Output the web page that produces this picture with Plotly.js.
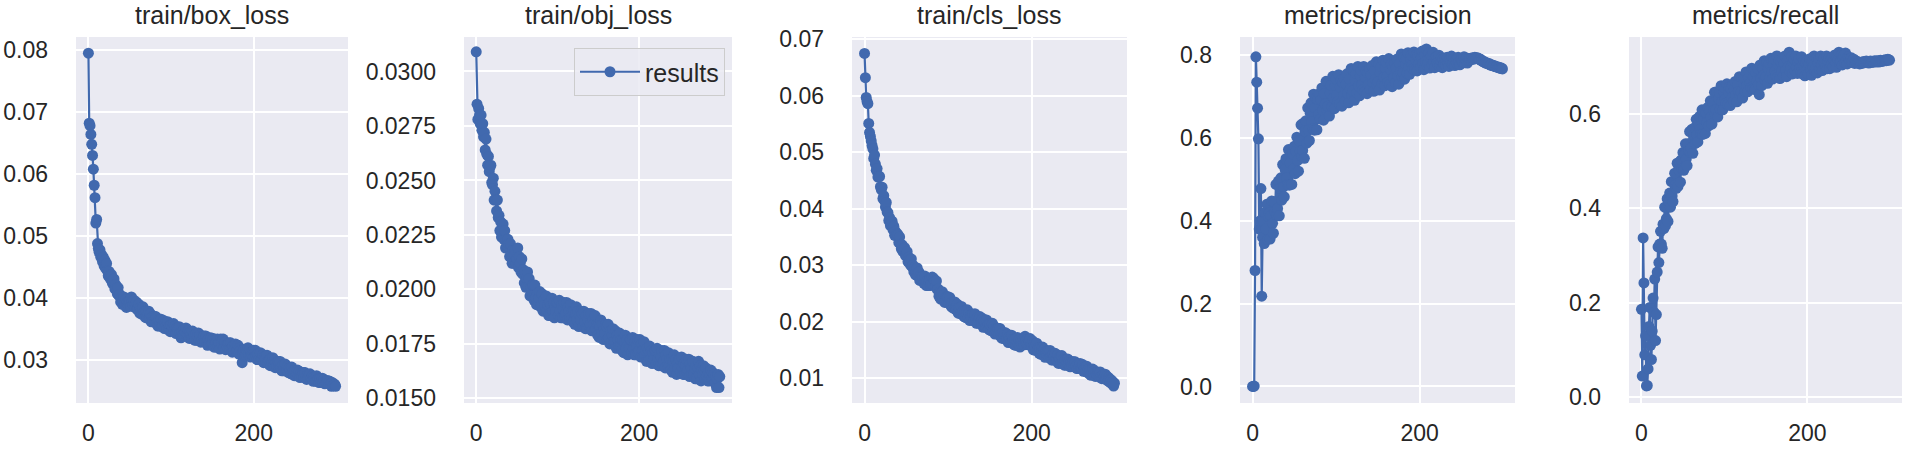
<!DOCTYPE html>
<html>
<head>
<meta charset="utf-8">
<script src="https://cdn.plot.ly/plotly-3.0.1.min.js"></script>
<style>html,body{margin:0;padding:0;background:#fff;}#chart{width:1905px;height:453px;}</style>
</head>
<body>
<div id="chart"></div>
<script>
const titles = ["train/box_loss", "train/obj_loss", "train/cls_loss", "metrics/precision", "metrics/recall"];
const seriesName = "results";
const xTicks = [0, 200];

const boxLoss = [
0.0795,0.0682,0.0678,0.0664,0.0648,0.0630,0.0608,0.0582,0.0562,0.0521,
0.0527,0.0488,0.0480,0.0474,0.0478,0.0466,0.0470,0.0459,0.0466,0.0452,
0.0461,0.0448,0.0456,0.0444,0.0436,0.0443,0.0432,0.0436,0.0438,0.0424,
0.0426,0.0431,0.0415,0.0422,0.0416,0.0407,0.0417,0.0404,0.0406,0.0394,
0.0401,0.0390,0.0396,0.0402,0.0390,0.0398,0.0385,0.0394,0.0389,0.0394,
0.0396,0.0387,0.0402,0.0395,0.0389,0.0397,0.0385,0.0390,0.0394,0.0382,
0.0383,0.0390,0.0376,0.0385,0.0381,0.0374,0.0386,0.0375,0.0379,0.0369,
0.0379,0.0368,0.0374,0.0379,0.0367,0.0375,0.0362,0.0370,0.0365,0.0370,
0.0371,0.0360,0.0370,0.0360,0.0355,0.0364,0.0355,0.0361,0.0366,0.0354,
0.0357,0.0364,0.0351,0.0360,0.0356,0.0350,0.0362,0.0351,0.0356,0.0346,
0.0357,0.0347,0.0353,0.0359,0.0347,0.0355,0.0343,0.0352,0.0347,0.0353,
0.0354,0.0344,0.0336,0.0345,0.0339,0.0349,0.0340,0.0346,0.0352,0.0340,
0.0341,0.0348,0.0335,0.0345,0.0341,0.0335,0.0347,0.0336,0.0341,0.0332,
0.0342,0.0332,0.0338,0.0344,0.0332,0.0341,0.0329,0.0338,0.0332,0.0338,
0.0339,0.0329,0.0339,0.0330,0.0324,0.0334,0.0325,0.0332,0.0336,0.0325,
0.0327,0.0335,0.0321,0.0332,0.0327,0.0321,0.0334,0.0323,0.0328,0.0318,
0.0334,0.0326,0.0333,0.0334,0.0320,0.0329,0.0317,0.0325,0.0321,0.0326,
0.0328,0.0318,0.0328,0.0319,0.0313,0.0323,0.0315,0.0321,0.0326,0.0314,
0.0316,0.0324,0.0310,0.0320,0.0316,0.0310,0.0296,0.0312,0.0317,0.0307,
0.0318,0.0308,0.0315,0.0320,0.0309,0.0317,0.0305,0.0313,0.0309,0.0314,
0.0316,0.0305,0.0316,0.0306,0.0301,0.0310,0.0301,0.0308,0.0312,0.0301,
0.0302,0.0309,0.0296,0.0305,0.0302,0.0296,0.0308,0.0296,0.0300,0.0292,
0.0302,0.0291,0.0298,0.0304,0.0292,0.0300,0.0288,0.0296,0.0291,0.0297,
0.0298,0.0287,0.0298,0.0288,0.0283,0.0292,0.0283,0.0289,0.0294,0.0283,
0.0284,0.0290,0.0280,0.0287,0.0284,0.0278,0.0289,0.0280,0.0283,0.0275,
0.0283,0.0275,0.0280,0.0284,0.0275,0.0282,0.0272,0.0279,0.0275,0.0280,
0.0280,0.0272,0.0280,0.0273,0.0269,0.0276,0.0271,0.0275,0.0278,0.0270,
0.0271,0.0275,0.0266,0.0273,0.0270,0.0266,0.0275,0.0268,0.0270,0.0264,
0.0270,0.0264,0.0267,0.0271,0.0264,0.0269,0.0262,0.0266,0.0264,0.0267,
0.0267,0.0262,0.0266,0.0262,0.0258,0.0264,0.0259,0.0262,0.0261,0.0258
];

const objLoss = [
0.0309,0.0285,0.0278,0.0283,0.0280,0.0276,0.0280,0.0273,0.0276,0.0270,
0.0272,0.0264,0.0269,0.0262,0.0257,0.0261,0.0254,0.0256,0.0257,0.0249,
0.0248,0.0251,0.0241,0.0245,0.0241,0.0236,0.0241,0.0233,0.0234,0.0227,
0.0231,0.0224,0.0228,0.0230,0.0223,0.0227,0.0219,0.0223,0.0220,0.0223,
0.0221,0.0215,0.0221,0.0216,0.0212,0.0218,0.0212,0.0216,0.0218,0.0212,
0.0214,0.0219,0.0210,0.0215,0.0212,0.0208,0.0214,0.0207,0.0209,0.0203,
0.0208,0.0201,0.0205,0.0208,0.0201,0.0205,0.0197,0.0201,0.0199,0.0202,
0.0202,0.0195,0.0202,0.0196,0.0193,0.0198,0.0193,0.0196,0.0199,0.0192,
0.0193,0.0198,0.0190,0.0195,0.0193,0.0190,0.0197,0.0190,0.0193,0.0188,
0.0194,0.0188,0.0193,0.0196,0.0190,0.0194,0.0187,0.0192,0.0190,0.0194,
0.0194,0.0188,0.0195,0.0190,0.0187,0.0193,0.0187,0.0191,0.0194,0.0188,
0.0189,0.0194,0.0186,0.0192,0.0190,0.0187,0.0193,0.0187,0.0190,0.0185,
0.0190,0.0184,0.0189,0.0192,0.0186,0.0190,0.0183,0.0188,0.0186,0.0190,
0.0189,0.0183,0.0190,0.0185,0.0182,0.0188,0.0182,0.0186,0.0189,0.0183,
0.0184,0.0189,0.0181,0.0186,0.0184,0.0181,0.0188,0.0182,0.0184,0.0179,
0.0184,0.0178,0.0183,0.0186,0.0180,0.0184,0.0177,0.0182,0.0180,0.0184,
0.0183,0.0177,0.0184,0.0178,0.0175,0.0181,0.0176,0.0179,0.0182,0.0176,
0.0176,0.0181,0.0173,0.0179,0.0177,0.0174,0.0180,0.0174,0.0177,0.0172,
0.0177,0.0171,0.0176,0.0179,0.0173,0.0177,0.0170,0.0175,0.0173,0.0177,
0.0177,0.0171,0.0178,0.0173,0.0170,0.0176,0.0170,0.0174,0.0177,0.0171,
0.0172,0.0177,0.0169,0.0175,0.0172,0.0169,0.0176,0.0170,0.0172,0.0167,
0.0173,0.0167,0.0172,0.0174,0.0168,0.0172,0.0166,0.0171,0.0168,0.0172,
0.0172,0.0166,0.0173,0.0168,0.0165,0.0170,0.0165,0.0169,0.0172,0.0166,
0.0167,0.0172,0.0164,0.0170,0.0168,0.0165,0.0171,0.0165,0.0168,0.0163,
0.0168,0.0162,0.0167,0.0170,0.0164,0.0168,0.0161,0.0166,0.0164,0.0168,
0.0168,0.0162,0.0169,0.0164,0.0161,0.0166,0.0161,0.0165,0.0168,0.0162,
0.0163,0.0168,0.0160,0.0166,0.0164,0.0161,0.0167,0.0161,0.0164,0.0159,
0.0165,0.0159,0.0164,0.0167,0.0161,0.0165,0.0158,0.0163,0.0161,0.0165,
0.0163,0.0159,0.0164,0.0160,0.0158,0.0162,0.0158,0.0161,0.0163,0.0159,
0.0162,0.0159,0.0161,0.0157,0.0160,0.0155,0.0159,0.0161,0.0155,0.0160
];

const clsLoss = [
0.0675,0.0632,0.0597,0.0590,0.0586,0.0551,0.0535,0.0528,0.0520,0.0512,
0.0506,0.0489,0.0495,0.0479,0.0468,0.0471,0.0456,0.0458,0.0457,0.0439,
0.0434,0.0438,0.0418,0.0423,0.0414,0.0403,0.0411,0.0394,0.0393,0.0379,
0.0384,0.0370,0.0375,0.0378,0.0363,0.0369,0.0353,0.0360,0.0352,0.0356,
0.0354,0.0340,0.0350,0.0337,0.0329,0.0336,0.0324,0.0329,0.0331,0.0317,
0.0317,0.0324,0.0306,0.0314,0.0309,0.0300,0.0311,0.0297,0.0300,0.0288,
0.0296,0.0283,0.0289,0.0295,0.0281,0.0288,0.0273,0.0282,0.0276,0.0281,
0.0280,0.0268,0.0281,0.0270,0.0264,0.0273,0.0264,0.0271,0.0275,0.0264,
0.0267,0.0279,0.0266,0.0276,0.0272,0.0262,0.0272,0.0257,0.0258,0.0245,
0.0252,0.0240,0.0247,0.0253,0.0240,0.0248,0.0234,0.0243,0.0238,0.0244,
0.0244,0.0232,0.0243,0.0232,0.0226,0.0234,0.0224,0.0231,0.0235,0.0222,
0.0222,0.0231,0.0215,0.0225,0.0221,0.0214,0.0227,0.0215,0.0219,0.0209,
0.0219,0.0207,0.0214,0.0221,0.0208,0.0216,0.0202,0.0212,0.0207,0.0213,
0.0213,0.0201,0.0214,0.0203,0.0197,0.0207,0.0197,0.0204,0.0209,0.0197,
0.0197,0.0206,0.0190,0.0201,0.0197,0.0190,0.0203,0.0192,0.0196,0.0186,
0.0196,0.0184,0.0191,0.0197,0.0184,0.0192,0.0178,0.0187,0.0182,0.0188,
0.0188,0.0176,0.0188,0.0177,0.0171,0.0180,0.0170,0.0177,0.0181,0.0169,
0.0169,0.0178,0.0163,0.0173,0.0169,0.0163,0.0176,0.0164,0.0169,0.0159,
0.0169,0.0158,0.0165,0.0172,0.0160,0.0168,0.0155,0.0165,0.0160,0.0167,
0.0169,0.0159,0.0174,0.0165,0.0160,0.0169,0.0159,0.0166,0.0170,0.0157,
0.0157,0.0166,0.0150,0.0160,0.0156,0.0149,0.0162,0.0150,0.0154,0.0144,
0.0154,0.0142,0.0149,0.0155,0.0143,0.0151,0.0137,0.0147,0.0142,0.0148,
0.0148,0.0136,0.0149,0.0138,0.0132,0.0142,0.0132,0.0139,0.0144,0.0132,
0.0132,0.0141,0.0126,0.0136,0.0133,0.0126,0.0140,0.0128,0.0133,0.0123,
0.0132,0.0123,0.0129,0.0134,0.0124,0.0131,0.0120,0.0128,0.0123,0.0129,
0.0129,0.0120,0.0129,0.0121,0.0117,0.0124,0.0117,0.0122,0.0126,0.0117,
0.0117,0.0124,0.0112,0.0119,0.0116,0.0111,0.0121,0.0112,0.0116,0.0107,
0.0115,0.0105,0.0112,0.0116,0.0107,0.0113,0.0103,0.0110,0.0106,0.0111,
0.0110,0.0102,0.0111,0.0103,0.0099,0.0105,0.0099,0.0103,0.0107,0.0098,
0.0103,0.0095,0.0101,0.0098,0.0092,0.0097,0.0090,0.0094,0.0086,0.0091
];

const precision = [
0.000,0.000,0.001,0.280,0.796,0.735,0.672,0.598,0.380,0.400,
0.478,0.218,0.360,0.400,0.345,0.420,0.380,0.440,0.355,0.410,
0.420,0.356,0.412,0.448,0.394,0.370,0.446,0.422,0.488,0.414,
0.430,0.496,0.412,0.478,0.504,0.450,0.536,0.482,0.458,0.524,
0.550,0.504,0.488,0.572,0.486,0.540,0.564,0.488,0.562,0.526,
0.580,0.514,0.568,0.602,0.546,0.520,0.594,0.568,0.632,0.556,
0.570,0.636,0.551,0.617,0.642,0.588,0.673,0.619,0.594,0.660,
0.685,0.639,0.622,0.706,0.619,0.673,0.696,0.620,0.693,0.657,
0.707,0.646,0.692,0.721,0.668,0.643,0.707,0.682,0.737,0.667,
0.677,0.733,0.653,0.709,0.728,0.676,0.749,0.697,0.671,0.727,
0.742,0.703,0.688,0.753,0.682,0.723,0.740,0.677,0.734,0.703,
0.744,0.689,0.730,0.755,0.708,0.685,0.742,0.719,0.768,0.705,
0.714,0.763,0.691,0.740,0.756,0.709,0.773,0.726,0.702,0.751,
0.763,0.729,0.716,0.773,0.711,0.747,0.762,0.707,0.757,0.730,
0.766,0.718,0.753,0.775,0.733,0.713,0.762,0.742,0.784,0.729,
0.736,0.779,0.716,0.759,0.773,0.732,0.788,0.747,0.726,0.769,
0.783,0.749,0.735,0.792,0.729,0.765,0.779,0.724,0.773,0.746,
0.781,0.733,0.769,0.791,0.750,0.730,0.780,0.760,0.803,0.748,
0.758,0.795,0.742,0.779,0.792,0.757,0.806,0.771,0.754,0.791,
0.800,0.776,0.767,0.808,0.764,0.790,0.801,0.762,0.798,0.779,
0.805,0.770,0.795,0.810,0.780,0.765,0.800,0.785,0.815,0.775,
0.782,0.806,0.769,0.793,0.800,0.776,0.807,0.783,0.770,0.794,
0.797,0.782,0.776,0.800,0.773,0.788,0.794,0.770,0.791,0.779,
0.793,0.775,0.788,0.795,0.780,0.773,0.790,0.783,0.798,0.778,
0.781,0.793,0.775,0.787,0.791,0.779,0.795,0.783,0.777,0.789,
0.791,0.784,0.782,0.796,0.782,0.789,0.793,0.781,0.792,0.787,
0.792,0.789,0.791,0.794,0.790,0.792,0.795,0.793,0.794,0.792,
0.793,0.791,0.789,0.790,0.787,0.786,0.784,0.785,0.782,0.781,
0.782,0.780,0.779,0.780,0.777,0.776,0.777,0.775,0.774,0.775,
0.773,0.772,0.773,0.771,0.770,0.771,0.769,0.768,0.769,0.767
];

const recall = [
0.186,0.045,0.337,0.242,0.090,0.130,0.024,0.025,0.060,0.150,
0.190,0.110,0.080,0.140,0.210,0.180,0.250,0.120,0.175,0.265,
0.318,0.285,0.324,0.351,0.324,0.315,0.366,0.357,0.402,0.363,
0.378,0.420,0.372,0.414,0.432,0.402,0.456,0.426,0.414,0.456,
0.474,0.449,0.442,0.495,0.446,0.481,0.498,0.455,0.502,0.483,
0.518,0.480,0.514,0.536,0.504,0.490,0.536,0.522,0.562,0.518,
0.528,0.567,0.516,0.555,0.570,0.537,0.588,0.555,0.540,0.579,
0.594,0.567,0.557,0.608,0.556,0.589,0.603,0.558,0.602,0.581,
0.613,0.574,0.606,0.627,0.593,0.578,0.622,0.607,0.645,0.600,
0.608,0.646,0.593,0.631,0.644,0.610,0.659,0.625,0.608,0.646,
0.655,0.631,0.622,0.663,0.619,0.645,0.656,0.617,0.653,0.634,
0.660,0.626,0.652,0.668,0.639,0.625,0.661,0.647,0.678,0.639,
0.645,0.676,0.633,0.664,0.675,0.647,0.688,0.659,0.646,0.677,
0.688,0.664,0.655,0.696,0.652,0.679,0.690,0.651,0.687,0.669,
0.695,0.661,0.640,0.703,0.674,0.659,0.695,0.681,0.712,0.672,
0.678,0.709,0.664,0.695,0.706,0.676,0.717,0.688,0.673,0.704,
0.715,0.690,0.681,0.722,0.677,0.703,0.713,0.674,0.709,0.690,
0.715,0.680,0.706,0.722,0.692,0.678,0.713,0.699,0.730,0.690,
0.697,0.721,0.684,0.708,0.715,0.691,0.722,0.698,0.685,0.709,
0.716,0.696,0.688,0.720,0.684,0.704,0.712,0.680,0.708,0.692,
0.712,0.684,0.704,0.716,0.693,0.681,0.710,0.698,0.722,0.691,
0.696,0.717,0.686,0.707,0.715,0.693,0.722,0.703,0.691,0.712,
0.717,0.703,0.697,0.722,0.695,0.711,0.717,0.695,0.715,0.704,
0.719,0.699,0.714,0.724,0.706,0.698,0.719,0.713,0.730,0.706,
0.710,0.725,0.703,0.718,0.723,0.708,0.728,0.713,0.705,0.720,
0.716,0.709,0.712,0.718,0.708,0.713,0.715,0.706,0.711,0.709,
0.710,0.707,0.709,0.705,0.708,0.706,0.709,0.707,0.710,0.708,
0.709,0.711,0.708,0.710,0.707,0.709,0.711,0.708,0.710,0.709,
0.710,0.712,0.709,0.711,0.710,0.712,0.709,0.711,0.713,0.710,
0.712,0.711,0.713,0.712,0.714,0.712,0.713,0.715,0.714,0.713
];

const yTicks = [
  [0.03, 0.04, 0.05, 0.06, 0.07, 0.08],
  [0.0150, 0.0175, 0.0200, 0.0225, 0.0250, 0.0275, 0.0300],
  [0.01, 0.02, 0.03, 0.04, 0.05, 0.06, 0.07],
  [0.0, 0.2, 0.4, 0.6, 0.8],
  [0.0, 0.2, 0.4, 0.6]
];
const yFormats = [".2f", ".4f", ".2f", ".1f", ".1f"];

const allSeries = [boxLoss, objLoss, clsLoss, precision, recall];
const epochs = boxLoss.map((_, i) => i);

(function () {
  // layout geometry (pixels in a 1905x453 figure)
  const W = 1905, H = 453;
  const boxes = [[76, 348], [464, 732], [852, 1127], [1240, 1515], [1629, 1902]];
  const yRanges = [[0.0231, 0.0821], [0.01479, 0.03158], [0.0056, 0.0704], [-0.040, 0.844], [-0.012, 0.762]];
  const plotTop = 37, plotBottom = 403;

  const color = "#4169ae";
  const font = {family: "Liberation Sans, Arial, sans-serif", color: "#262626"};

  const traces = allSeries.map((ys, i) => ({
    x: epochs, y: ys, type: "scatter", mode: "lines+markers",
    name: seriesName, showlegend: i === 1,
    xaxis: "x" + (i + 1), yaxis: "y" + (i + 1),
    line: {color: color, width: 2.2},
    marker: {color: color, size: 11}
  }));

  const layout = {
    width: W, height: H,
    margin: {l: 0, r: 0, t: 0, b: 0},
    paper_bgcolor: "#ffffff",
    plot_bgcolor: "#eaeaf2",
    font: Object.assign({size: 23}, font),
    showlegend: true,
    legend: {
      x: 725 / W, y: 1 - 48 / H, xanchor: "right", yanchor: "top",
      bgcolor: "rgba(234,234,242,0.85)", bordercolor: "#cccccc", borderwidth: 1,
      itemwidth: 60,
      font: Object.assign({size: 25}, font)
    },
    annotations: []
  };

  boxes.forEach((b, i) => {
    const k = i + 1;
    layout["xaxis" + k] = {
      domain: [b[0] / W, b[1] / W], anchor: "y" + k,
      range: [-15, 314], tickvals: xTicks, ticks: "", ticklabelstandoff: 14,
      showgrid: true, gridcolor: "#ffffff", gridwidth: 2, zeroline: false, showline: false,
      tickfont: Object.assign({size: 23}, font)
    };
    layout["yaxis" + k] = {
      domain: [1 - plotBottom / H, 1 - plotTop / H], anchor: "x" + k,
      range: yRanges[i], tickvals: yTicks[i], tickformat: yFormats[i], ticks: "", ticklabelstandoff: 27,
      showgrid: true, gridcolor: "#ffffff", gridwidth: 2, zeroline: false, showline: false,
      tickfont: Object.assign({size: 23}, font)
    };
    layout.annotations.push({
      text: titles[i], xref: "paper", yref: "paper",
      x: (b[0] + b[1]) / 2 / W, y: 1 - 15 / H, xanchor: "center", yanchor: "middle",
      showarrow: false, font: Object.assign({size: 25}, font)
    });
  });

  Plotly.newPlot("chart", traces, layout, {staticPlot: true, displayModeBar: false});
})();
</script>
</body>
</html>
